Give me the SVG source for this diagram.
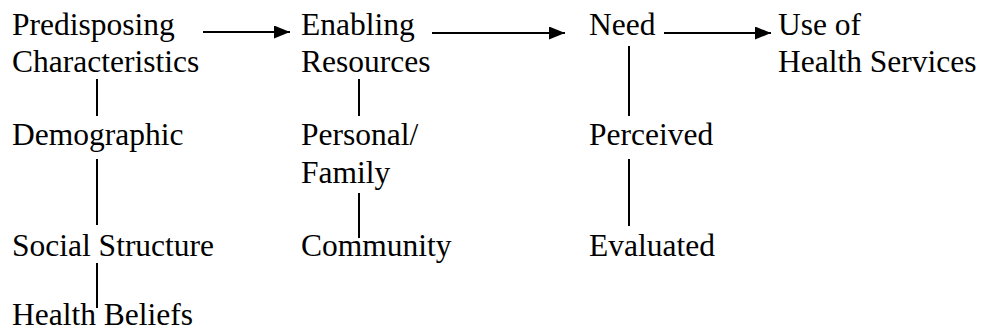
<svg xmlns="http://www.w3.org/2000/svg" width="983" height="331" viewBox="0 0 983 331">
<defs>
<style>
text{font-family:"Liberation Serif",Tinos,"Times New Roman",Times,"DejaVu Serif",serif;font-size:31.5px;fill:#000}
.c line{stroke:#000;stroke-width:2}
</style>
<marker id="ah" markerUnits="userSpaceOnUse" markerWidth="17" markerHeight="14" refX="16" refY="6.5" orient="auto">
<path d="M0,0 L16,6.5 L0,13 Z" fill="#000"/>
</marker>
</defs>
<rect width="983" height="331" fill="#fff"/>
<g id="predisposing"><text x="12" y="35" font-family="Liberation Serif, serif">Predisposing</text><text x="12" y="72" font-family="Liberation Serif, serif">Characteristics</text></g>
<g id="enabling"><text x="301" y="35">Enabling</text><text x="301" y="72">Resources</text></g>
<g id="need"><text x="589" y="35">Need</text></g>
<g id="use"><text x="778" y="35">Use of</text><text x="778" y="72">Health Services</text></g>
<g id="demographic"><text x="12" y="145">Demographic</text></g>
<g id="social"><text x="12" y="256">Social Structure</text></g>
<g id="beliefs"><text x="12" y="325">Health Beliefs</text></g>
<g id="personal"><text x="301" y="145">Personal/</text><text x="301" y="183">Family</text></g>
<g id="community"><text x="301" y="256">Community</text></g>
<g id="perceived"><text x="589" y="145">Perceived</text></g>
<g id="evaluated"><text x="589" y="256">Evaluated</text></g>
<g id="connectors" class="c">
<line x1="203" y1="32" x2="290" y2="32" marker-end="url(#ah)"/>
<line x1="432" y1="33" x2="565" y2="33" marker-end="url(#ah)"/>
<line x1="664" y1="33" x2="771" y2="33" marker-end="url(#ah)"/>
<line x1="97" y1="79" x2="97" y2="116"/>
<line x1="97" y1="159" x2="97" y2="225"/>
<line x1="97" y1="263" x2="97" y2="308"/>
<line x1="359" y1="79" x2="359" y2="116"/>
<line x1="359" y1="193" x2="359" y2="238"/>
<line x1="629" y1="46" x2="629" y2="116"/>
<line x1="629" y1="159" x2="629" y2="226"/>
</g>
</svg>
